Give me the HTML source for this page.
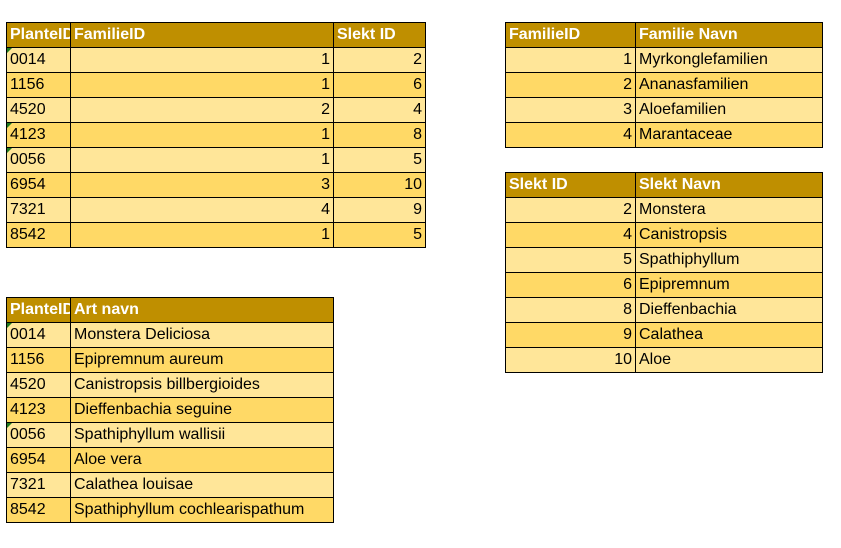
<!DOCTYPE html>
<html><head><meta charset="utf-8"><style>
body{margin:0;width:841px;height:548px;background:#fff;position:relative;overflow:hidden;font-family:"Liberation Sans",sans-serif;}
table{position:absolute;border-collapse:collapse;table-layout:fixed;}
td{border:1px solid #000;height:25px;padding:0 3px;font-size:16px;color:#000;white-space:nowrap;overflow:hidden;box-sizing:border-box;position:relative;}
tr.h td{background:#BF8F00;color:#fff;font-weight:bold;}
tr.a td{background:#FFE699;}
tr.b td{background:#FFD966;}
td.r{text-align:right;}
.g::before{content:"";position:absolute;left:0;top:0;border-top:5px solid #1e7b1e;border-right:5px solid transparent;}
</style></head><body>
<table style="left:6px;top:22px;width:419px">
<col style="width:64px"><col style="width:263px"><col style="width:92px">
<tr class="h"><td>PlanteID</td><td>FamilieID</td><td>Slekt ID</td></tr>
<tr class="a"><td class="g">0014</td><td class="r">1</td><td class="r">2</td></tr>
<tr class="b"><td>1156</td><td class="r">1</td><td class="r">6</td></tr>
<tr class="a"><td>4520</td><td class="r">2</td><td class="r">4</td></tr>
<tr class="b"><td class="g">4123</td><td class="r">1</td><td class="r">8</td></tr>
<tr class="a"><td class="g">0056</td><td class="r">1</td><td class="r">5</td></tr>
<tr class="b"><td>6954</td><td class="r">3</td><td class="r">10</td></tr>
<tr class="a"><td>7321</td><td class="r">4</td><td class="r">9</td></tr>
<tr class="b"><td>8542</td><td class="r">1</td><td class="r">5</td></tr>
</table>
<table style="left:6px;top:297px;width:327px">
<col style="width:64px"><col style="width:263px">
<tr class="h"><td>PlanteID</td><td>Art navn</td></tr>
<tr class="a"><td class="g">0014</td><td>Monstera Deliciosa</td></tr>
<tr class="b"><td>1156</td><td>Epipremnum aureum</td></tr>
<tr class="a"><td>4520</td><td>Canistropsis billbergioides</td></tr>
<tr class="b"><td>4123</td><td>Dieffenbachia seguine</td></tr>
<tr class="a"><td class="g">0056</td><td>Spathiphyllum wallisii</td></tr>
<tr class="b"><td>6954</td><td>Aloe vera</td></tr>
<tr class="a"><td>7321</td><td>Calathea louisae</td></tr>
<tr class="b"><td>8542</td><td>Spathiphyllum cochlearispathum</td></tr>
</table>
<table style="left:505px;top:22px;width:317px">
<col style="width:130px"><col style="width:187px">
<tr class="h"><td>FamilieID</td><td>Familie Navn</td></tr>
<tr class="a"><td class="r">1</td><td>Myrkonglefamilien</td></tr>
<tr class="b"><td class="r">2</td><td>Ananasfamilien</td></tr>
<tr class="a"><td class="r">3</td><td>Aloefamilien</td></tr>
<tr class="b"><td class="r">4</td><td>Marantaceae</td></tr>
</table>
<table style="left:505px;top:172px;width:317px">
<col style="width:130px"><col style="width:187px">
<tr class="h"><td>Slekt ID</td><td>Slekt Navn</td></tr>
<tr class="a"><td class="r">2</td><td>Monstera</td></tr>
<tr class="b"><td class="r">4</td><td>Canistropsis</td></tr>
<tr class="a"><td class="r">5</td><td>Spathiphyllum</td></tr>
<tr class="b"><td class="r">6</td><td>Epipremnum</td></tr>
<tr class="a"><td class="r">8</td><td>Dieffenbachia</td></tr>
<tr class="b"><td class="r">9</td><td>Calathea</td></tr>
<tr class="a"><td class="r">10</td><td>Aloe</td></tr>
</table>
</body></html>
